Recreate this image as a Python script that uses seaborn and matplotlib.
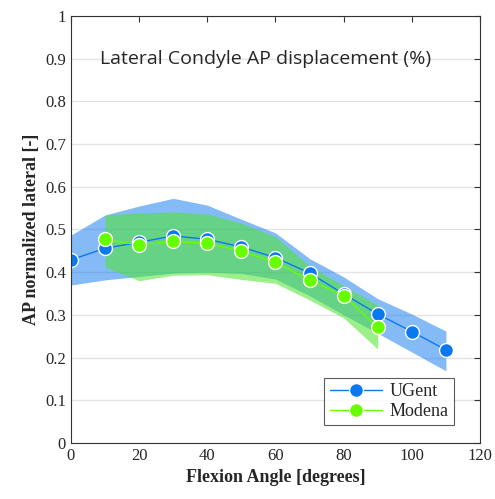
import matplotlib
matplotlib.use("Agg")
import matplotlib.pyplot as plt
import seaborn as sns
import numpy as np
import pandas as pd

# flexion angles and mean / band values
ugent_angle = [0, 10, 20, 30, 40, 50, 60, 70, 80, 90, 100, 110]
ugent_mean = [0.429, 0.456, 0.470, 0.485, 0.477, 0.459, 0.434, 0.398, 0.349, 0.302, 0.261, 0.218]
ugent_upper = [0.487, 0.534, 0.555, 0.573, 0.557, 0.524, 0.492, 0.432, 0.389, 0.338, 0.302, 0.262]
ugent_lower = [0.370, 0.382, 0.390, 0.398, 0.400, 0.397, 0.384, 0.345, 0.300, 0.257, 0.213, 0.169]

modena_angle = [10, 20, 30, 40, 50, 60, 70, 80, 90]
modena_mean = [0.477, 0.464, 0.472, 0.468, 0.449, 0.423, 0.381, 0.345, 0.271]
modena_upper = [0.534, 0.539, 0.541, 0.536, 0.515, 0.483, 0.415, 0.368, 0.323]
modena_lower = [0.412, 0.380, 0.393, 0.394, 0.383, 0.374, 0.335, 0.293, 0.220]

df = pd.concat([
    pd.DataFrame({"angle": ugent_angle, "value": ugent_mean, "group": "UGent"}),
    pd.DataFrame({"angle": modena_angle, "value": modena_mean, "group": "Modena"}),
])

sns.set_style("white")
plt.rcParams["font.family"] = ["Liberation Serif", "DejaVu Serif"]

blue = "#0A78F0"
green = "#66FF00"

fig = plt.figure(figsize=(4.95, 4.99), dpi=100)
ax = fig.add_axes([0.1434, 0.1122, 0.8263, 0.8558])

ax.fill_between(ugent_angle, ugent_lower, ugent_upper, color="#0A78F0", alpha=0.5, lw=0)
ax.fill_between(modena_angle, modena_lower, modena_upper, color="#4CE52A", alpha=0.55, lw=0)

sns.lineplot(data=df, x="angle", y="value", hue="group", palette={"UGent": blue, "Modena": green},
             marker="o", markersize=10, markeredgecolor="white", markeredgewidth=1,
             linewidth=1, ax=ax)

ax.set_xlim(0, 120)
ax.set_ylim(0, 1)
ax.set_xticks(np.arange(0, 121, 20))
ax.set_yticks(np.arange(0, 1.01, 0.1))
ax.set_yticklabels(["0"] + [f"{v:.1f}" for v in np.arange(0.1, 0.95, 0.1)] + ["1"])
ax.yaxis.grid(True, color="#e4e4e4", lw=1)
ax.set_axisbelow(True)
ax.tick_params(direction="in", top=True, right=True, labelsize=12, length=4, color="#333333")
for s in ax.spines.values():
    s.set_color("#333333")
    s.set_linewidth(0.8)

ax.set_xlabel("Flexion Angle [degrees]", fontsize=13, fontweight="bold")
ax.set_ylabel("AP normalized lateral [-]", fontsize=13, fontweight="bold")

ax.text(57, 0.9, "Lateral Condyle AP displacement (%)", ha="center", va="center",
        fontsize=14, family="Open Sans")

leg = ax.legend(loc="lower right", bbox_to_anchor=(0.958, 0.02), fontsize=13, frameon=True,
                fancybox=False, handlelength=2.9, handletextpad=0.4, borderpad=0.3,
                labelspacing=0.15)
leg.get_frame().set_edgecolor("#333333")
leg.get_frame().set_linewidth(0.8)

fig.savefig("out.png", dpi=100)
